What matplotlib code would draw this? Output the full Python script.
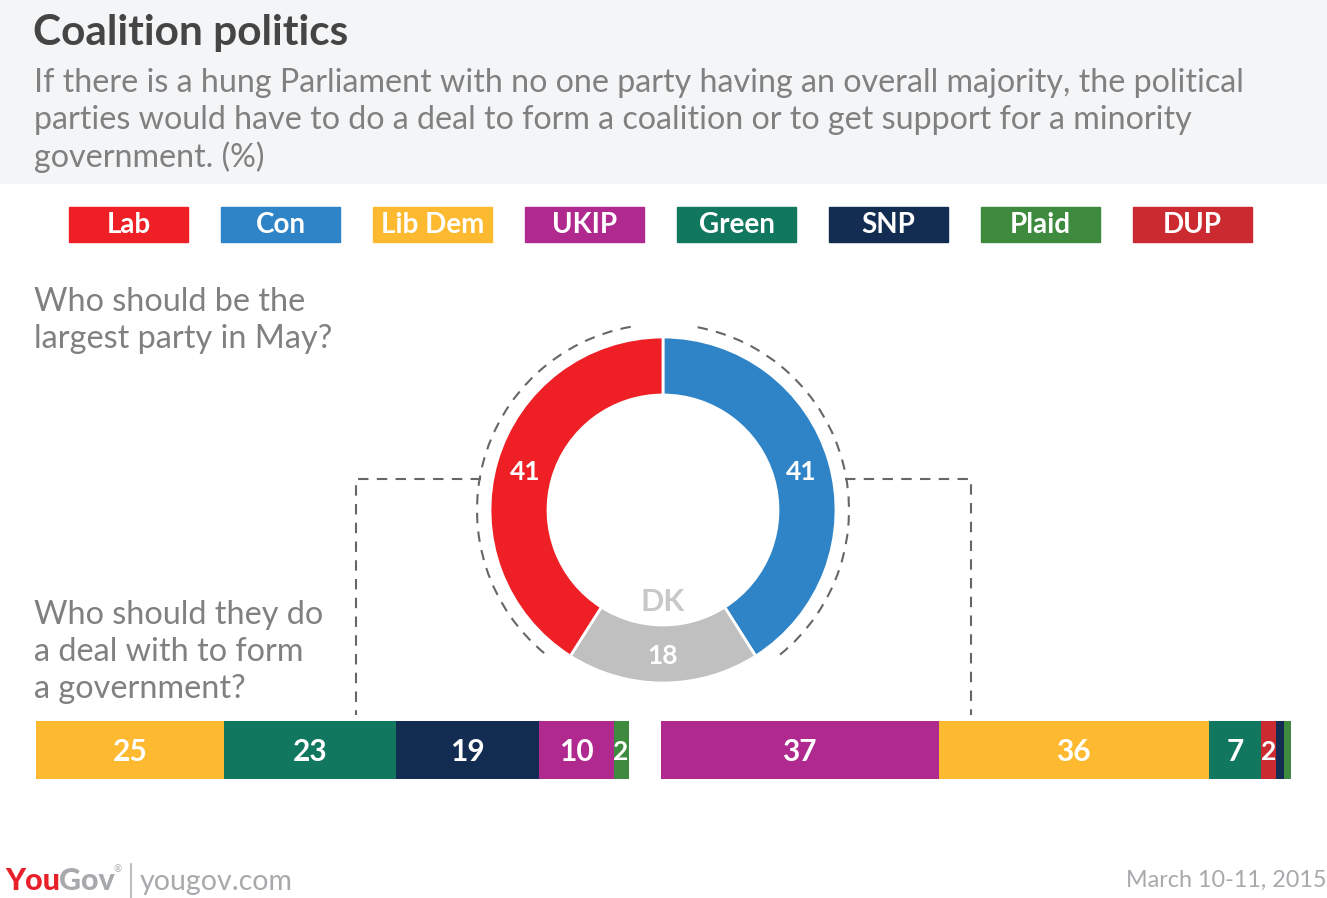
import numpy as np
import matplotlib
matplotlib.use("Agg")
import matplotlib.pyplot as plt
from matplotlib.patches import Arc, Rectangle

plt.rcParams['font.family'] = ['Lato', 'DejaVu Sans']

# 数据
parties = ["Lab", "Con", "Lib Dem", "UKIP", "Green", "SNP", "Plaid", "DUP"]
colors = {"Lab": "#ee2026", "Con": "#2e84c6", "Lib Dem": "#fdba30",
          "UKIP": "#b0298f", "Green": "#12775f", "SNP": "#132c51",
          "Plaid": "#3e8a3e", "DUP": "#cc2a31", "DK": "#c0c0c0"}

largest_labels = ["Con", "DK", "Lab"]
largest_values = [41, 18, 41]

lab_deal_parties = ["Lib Dem", "Green", "SNP", "UKIP", "Plaid"]
lab_deal_values = [25, 23, 19, 10, 2]

con_deal_parties = ["UKIP", "Lib Dem", "Green", "DUP", "SNP", "Plaid"]
con_deal_values = [37, 36, 7, 2, 1, 1]

W, H = 1327, 898
fig = plt.figure(figsize=(W / 100, H / 100), dpi=100)
fig.patch.set_facecolor("white")

# 背景层（像素坐标）
base = fig.add_axes([0, 0, 1, 1])
base.set_xlim(0, W)
base.set_ylim(H, 0)
base.axis("off")
base.add_patch(Rectangle((0, 0), W, 183, color="#f4f5f7", zorder=0))

base.text(33, 33, "Coalition politics", fontsize=30.5, fontweight="bold",
          color="#454545", va="center", ha="left")
sub = ["If there is a hung Parliament with no one party having an overall majority, the political",
       "parties would have to do a deal to form a coalition or to get support for a minority",
       "government. (%)"]
for i, line in enumerate(sub):
    base.text(34, 83 + i * 37, line, fontsize=23.2, color="#808080", va="center", ha="left")

# 图例
for i, p in enumerate(parties):
    x0 = 69 + i * 152
    base.add_patch(Rectangle((x0, 207), 119, 35, color=colors[p], zorder=1))
    base.text(x0 + 59.5, 225, p, fontsize=20, fontweight="bold", color="white",
              ha="center", va="center", zorder=2)

qsize = 23.3
base.text(34, 302, "Who should be the", fontsize=qsize, color="#808080", va="center")
base.text(34, 339, "largest party in May?", fontsize=qsize, color="#808080", va="center")
for i, line in enumerate(["Who should they do", "a deal with to form", "a government?"]):
    base.text(34, 615 + i * 37, line, fontsize=qsize, color="#808080", va="center")

# 虚线连接
dash = dict(color="#666666", lw=1.5, ls=(0, (5, 4)))
base.plot([481, 356, 356], [479, 479, 715], **dash)
base.plot([845, 971, 971], [479, 479, 715], **dash)

# 页脚
base.text(5, 881, "You", fontsize=22, fontweight="black", color="#e8202a", va="center")
base.text(59, 881, "Gov", fontsize=22, fontweight="black", color="#a7a9ac", va="center")
base.text(114, 870, "®", fontsize=7, color="#a7a9ac", va="center")
base.plot([131, 131], [864, 898], color="#b0b0b0", lw=1.2)
base.text(140, 882, "yougov.com", fontsize=20.5, color="#a7a9ac", va="center")
base.text(1326, 880, "March 10-11, 2015", fontsize=16.8, color="#a7a9ac", va="center", ha="right")

# 环形图
cx, cy, r_out, r_in = 663, 510, 173, 115
L = 1.15
side = 2 * L * r_out
pie_ax = fig.add_axes([(cx - side / 2) / W, (H - cy - side / 2) / H, side / W, side / H])
wedges, _ = pie_ax.pie(largest_values, colors=[colors[k] for k in largest_labels],
                       startangle=90, counterclock=False, radius=1,
                       wedgeprops=dict(width=(r_out - r_in) / r_out, edgecolor="white", linewidth=2))
pie_ax.set_xlim(-L, L)
pie_ax.set_ylim(-L, L)
pie_ax.set_aspect("equal")
pie_ax.axis("off")
mid_r = (r_out + r_in) / 2 / r_out
for w, v in zip(wedges, largest_values):
    ang = np.deg2rad((w.theta1 + w.theta2) / 2)
    pie_ax.text(mid_r * np.cos(ang), mid_r * np.sin(ang) - 0.01, str(v), fontsize=19,
                fontweight="bold", color="white", ha="center", va="center")
pie_ax.text(0, -92 / r_out, "DK", fontsize=22, fontweight="bold", color="#c8c8c8",
            ha="center", va="center")
rr = 2 * 186 / r_out
pie_ax.add_patch(Arc((0, 0), rr, rr, theta1=100, theta2=231, color="#666666", lw=1.5, ls=(0, (5, 4))))
pie_ax.add_patch(Arc((0, 0), rr, rr, theta1=-51, theta2=80, color="#666666", lw=1.5, ls=(0, (5, 4))))

# 条形图
px_per_unit = 7.5


def draw_bar(x_px, names, vals):
    total = sum(vals)
    ax = fig.add_axes([x_px / W, (H - 779) / H, total * px_per_unit / W, 58 / H])
    left = 0
    for n, v in zip(names, vals):
        ax.barh(0, v, left=left, height=1, color=colors[n], edgecolor="none")
        if v >= 2:
            ax.text(left + v / 2, -0.04, str(v), fontsize=21.5 if v > 2 else 19,
                    fontweight="bold", color="white", ha="center", va="center")
        left += v
    ax.set_xlim(0, total)
    ax.set_ylim(-0.5, 0.5)
    ax.axis("off")


draw_bar(36, lab_deal_parties, lab_deal_values)
draw_bar(661, con_deal_parties, con_deal_values)

fig.savefig("out.png", dpi=100)
